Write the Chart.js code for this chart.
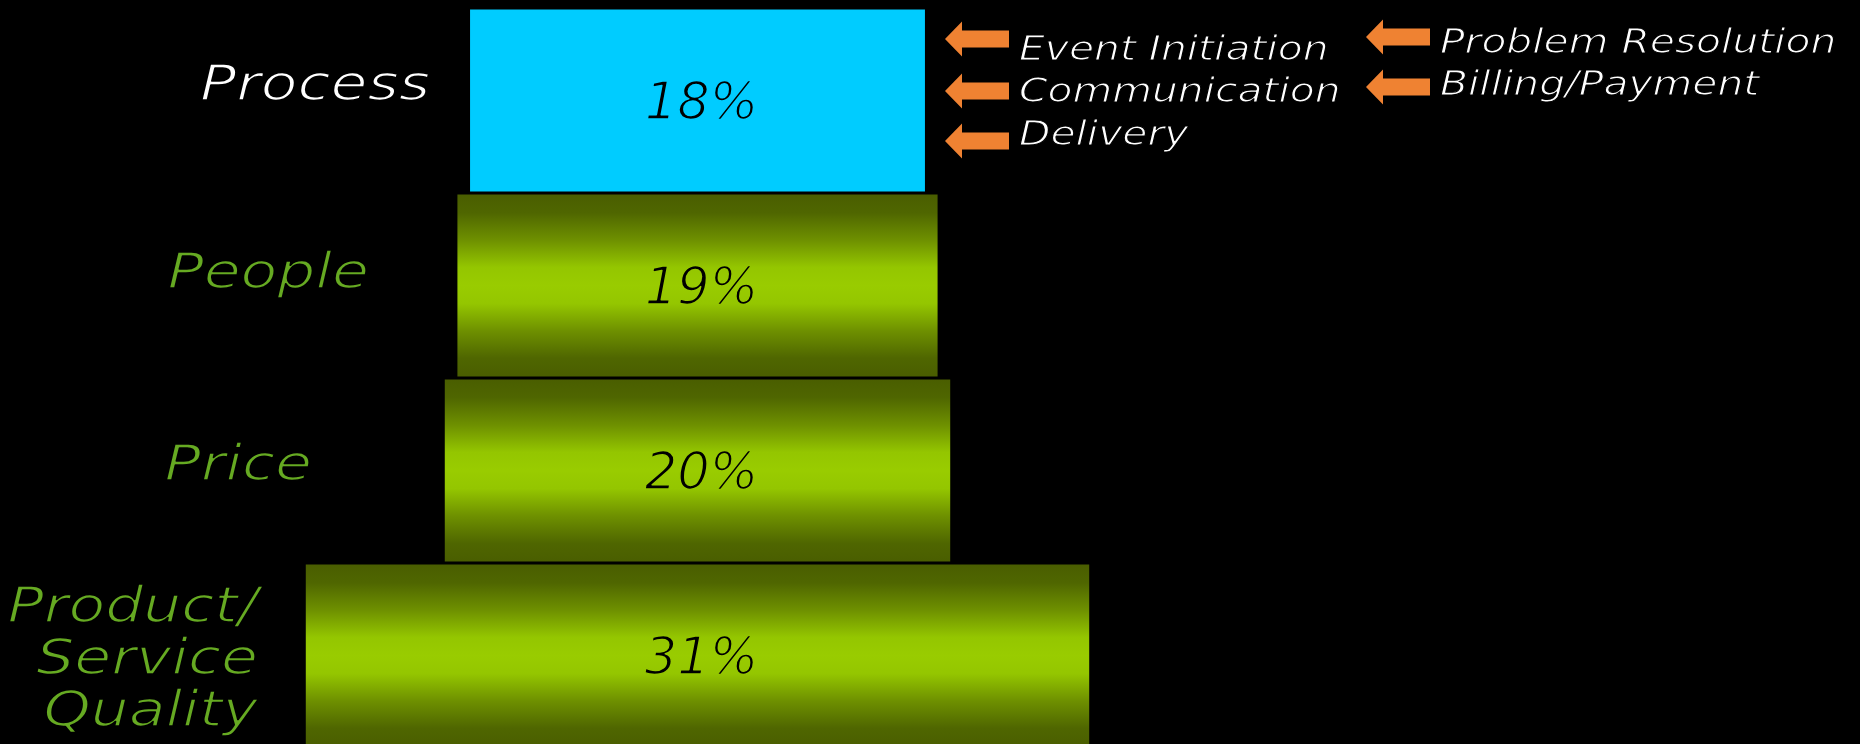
<!DOCTYPE html>
<html>
<head>
<meta charset="utf-8">
<script src="https://cdn.jsdelivr.net/npm/chart.js@4.4.1/dist/chart.umd.min.js"></script>
<style>
  html, body { margin: 0; padding: 0; background: #000; overflow: hidden; }
  #wrap { width: 1860px; height: 748px; position: relative; }
</style>
</head>
<body>
<div id="wrap"><canvas id="funnel"></canvas></div>
<script>
// Share of customer switching drivers, narrowest at the top
const categories = ['Process', 'People', 'Price', 'Product/Service Quality'];
const categoryLines = [['Process'], ['People'], ['Price'], ['Product/', 'Service', 'Quality']];
const shares = [18, 19, 20, 31];
const shareLabels = ['18%', '19%', '20%', '31%'];
const processDriversLeft = ['Event Initiation', 'Communication', 'Delivery'];
const processDriversRight = ['Problem Resolution', 'Billing/Payment'];

const FONT = "'DejaVu Sans', Verdana, sans-serif";
const STRETCH = 1.2;
const GREEN_LABEL = '#66aa22';
const ORANGE = '#ef8232';

// vertical olive gradient, bright in the middle of each bar
function barFill(context) {
  const chart = context.chart;
  const i = context.dataIndex;
  if (i === 0) return '#00ccff';
  const y = chart.scales.y;
  if (!y || !chart.chartArea) return '#99cc00';
  const pitch = (y.bottom - y.top) / categories.length;
  const c = y.getPixelForValue(i);
  const half = pitch * 0.984 / 2;
  const g = chart.ctx.createLinearGradient(0, c - half, 0, c + half);
  g.addColorStop(0.00, '#4a5e00');
  g.addColorStop(0.10, '#4f6600');
  g.addColorStop(0.25, '#6e9000');
  g.addColorStop(0.40, '#94c600');
  g.addColorStop(0.50, '#99cc00');
  g.addColorStop(0.60, '#94c600');
  g.addColorStop(0.75, '#6e9000');
  g.addColorStop(0.90, '#4f6600');
  g.addColorStop(1.00, '#4a5e00');
  return g;
}

// light-weight italic text on black: fill, then trim the glyph edges with black
function stretchedText(ctx, text, x, y, align, sx, trim) {
  ctx.save();
  ctx.translate(x, y);
  ctx.scale(sx, 1);
  ctx.textAlign = align;
  ctx.fillText(text, 0, 0);
  ctx.strokeStyle = '#000';
  ctx.lineWidth = trim;
  ctx.lineJoin = 'round';
  ctx.strokeText(text, 0, 0);
  ctx.restore();
}

function leftArrow(ctx, tipX, cy) {
  const headLen = 17, total = 64, headHalf = 17.5, shaftHalf = 8.5;
  ctx.beginPath();
  ctx.moveTo(tipX, cy);
  ctx.lineTo(tipX + headLen, cy - headHalf);
  ctx.lineTo(tipX + headLen, cy - shaftHalf);
  ctx.lineTo(tipX + total, cy - shaftHalf);
  ctx.lineTo(tipX + total, cy + shaftHalf);
  ctx.lineTo(tipX + headLen, cy + shaftHalf);
  ctx.lineTo(tipX + headLen, cy + headHalf);
  ctx.closePath();
  ctx.fillStyle = ORANGE;
  ctx.fill();
}

const annotations = {
  id: 'funnelText',
  afterDatasetsDraw(chart) {
    const ctx = chart.ctx;
    const meta = chart.getDatasetMeta(0);
    const yScale = chart.scales.y;
    ctx.save();
    ctx.textBaseline = 'alphabetic';

    // percentage inside each bar, edges trimmed with the bar's own fill
    ctx.font = 'italic 51px ' + FONT;
    ctx.textAlign = 'center';
    meta.data.forEach((bar, i) => {
      const cx = (bar.x + bar.base) / 2 + 4;
      const by = bar.y + 18;
      ctx.fillStyle = '#000';
      ctx.fillText(shareLabels[i], cx, by);
      ctx.strokeStyle = bar.options.backgroundColor;
      ctx.lineWidth = 1.6;
      ctx.lineJoin = 'round';
      ctx.strokeText(shareLabels[i], cx, by);
    });

    // category names on the left
    const labelRight = [430, 369, 312, 258];
    const labelDy = [[-1], [2], [9], [-34, 18, 70]];
    ctx.font = 'italic 50px ' + FONT;
    categoryLines.forEach((lines, i) => {
      const cy = yScale.getPixelForValue(i);
      ctx.fillStyle = i === 0 ? '#ffffff' : GREEN_LABEL;
      lines.forEach((t, k) => {
        stretchedText(ctx, t, labelRight[i], cy + labelDy[i][k], 'right', STRETCH, 1.6);
      });
    });

    // process drivers with arrows
    ctx.font = 'italic 34px ' + FONT;
    const leftArrows = [39, 91, 141];
    const leftBaselines = [60, 102, 145];
    processDriversLeft.forEach((t, k) => {
      leftArrow(ctx, 945, leftArrows[k]);
      ctx.fillStyle = '#ffffff';
      stretchedText(ctx, t, 1019, leftBaselines[k], 'left', STRETCH, 1.1);
    });
    const rightArrows = [37, 87];
    const rightBaselines = [53, 95];
    processDriversRight.forEach((t, k) => {
      leftArrow(ctx, 1366, rightArrows[k]);
      ctx.fillStyle = '#ffffff';
      stretchedText(ctx, t, 1440, rightBaselines[k], 'left', STRETCH, 1.1);
    });
    ctx.restore();
  }
};

new Chart(document.getElementById('funnel'), {
  type: 'bar',
  data: {
    labels: categories,
    datasets: [{
      data: shares.map(v => [-v / 2, v / 2]),
      backgroundColor: barFill,
      borderWidth: 0,
      borderSkipped: false,
      barPercentage: 0.984,
      categoryPercentage: 1.0
    }]
  },
  options: {
    indexAxis: 'y',
    responsive: true,
    maintainAspectRatio: false,
    animation: false,
    layout: { padding: { top: 8, bottom: 0, left: 0, right: 0 } },
    scales: {
      x: { display: false, min: -27.6, max: 46.0 },
      y: { display: false }
    },
    plugins: {
      legend: { display: false },
      tooltip: { enabled: false }
    }
  },
  plugins: [annotations]
});
</script>
</body>
</html>
